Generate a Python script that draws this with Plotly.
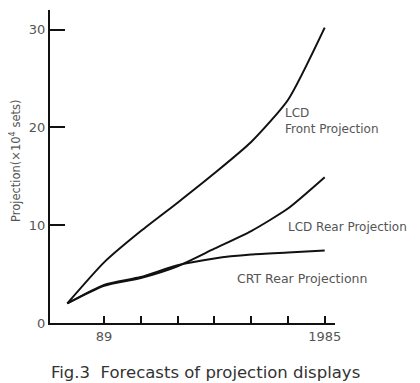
import plotly.graph_objects as go

years = [1988, 1989, 1990, 1991, 1992, 1993, 1994, 1995]
lcd_front = [2.0, 6.2, 9.4, 12.3, 15.3, 18.5, 22.8, 30.2]
lcd_rear = [2.0, 3.8, 4.6, 5.8, 7.6, 9.4, 11.7, 14.9]
crt_rear = [2.0, 3.9, 4.7, 5.9, 6.6, 7.0, 7.2, 7.4]

x_tickvals = [1989, 1990, 1991, 1992, 1993, 1994, 1995]
x_ticktext = ["89", "", "", "", "", "", "1985"]
y_tickvals = [0, 10, 20, 30]
y_ticktext = ["0", "10", "20", "30"]

series = [("LCD Front Projection", lcd_front), ("LCD Rear Projection", lcd_rear),
          ("CRT Rear Projectionn", crt_rear)]

fig = go.Figure()
for name, vals in series:
    fig.add_trace(go.Scatter(x=years, y=vals, mode="lines", name=name,
                             line=dict(color="#111111", width=2, shape="spline", smoothing=0.6)))

txt = "#555555"
font = "DejaVu Sans"
L, T, PW, PH = 42, 2, 285, 313
fig.update_layout(
    width=420, height=383,
    margin=dict(l=L, r=420 - L - PW, t=T, b=383 - T - PH),
    paper_bgcolor="white", plot_bgcolor="white",
    showlegend=False,
    font=dict(family=font, color=txt, size=11),
    xaxis=dict(range=[1987.53, 1995.28], tickvals=x_tickvals, ticktext=x_ticktext,
               ticks="inside", ticklen=7, tickwidth=2, tickcolor="#111111",
               showline=True, linecolor="#111111", linewidth=2,
               showgrid=False, zeroline=False, tickfont=dict(size=13, color=txt, family=font)),
    yaxis=dict(range=[0, 32.0], tickvals=y_tickvals, ticktext=y_ticktext,
               ticks="inside", ticklen=15, tickwidth=2, tickcolor="#111111",
               showline=True, linecolor="#111111", linewidth=2,
               showgrid=False, zeroline=False, tickfont=dict(size=13, color=txt, family=font)),
    annotations=[
        dict(x=1993.87, y=20.7, xref="x", yref="y", text="LCD<br>Front Projection",
             showarrow=False, xanchor="left", yanchor="middle", align="left",
             font=dict(size=12, color=txt, family=font)),
        dict(x=1993.95, y=9.8, xref="x", yref="y", text="LCD Rear Projection",
             showarrow=False, xanchor="left", yanchor="middle",
             font=dict(size=12, color=txt, family=font)),
        dict(x=1992.55, y=4.6, xref="x", yref="y", text="CRT Rear Projectionn",
             showarrow=False, xanchor="left", yanchor="middle",
             font=dict(size=12.5, color=txt, family=font)),
        dict(x=(15 - 50) / PW, y=(323 - 161) / PH, xref="paper", yref="paper",
             text="Projection(×10<sup>4</sup> sets)", xanchor="center", yanchor="middle",
             showarrow=False, textangle=-90, font=dict(size=11.5, color=txt, family=font)),
        dict(x=(205 - 50) / PW, y=(323 - 372) / PH, xref="paper", yref="paper",
             text="Fig.3  Forecasts of projection displays", xanchor="center", yanchor="middle",
             showarrow=False, font=dict(size=16.5, color="#333333", family=font)),
    ],
)

fig.write_html("out.html")
